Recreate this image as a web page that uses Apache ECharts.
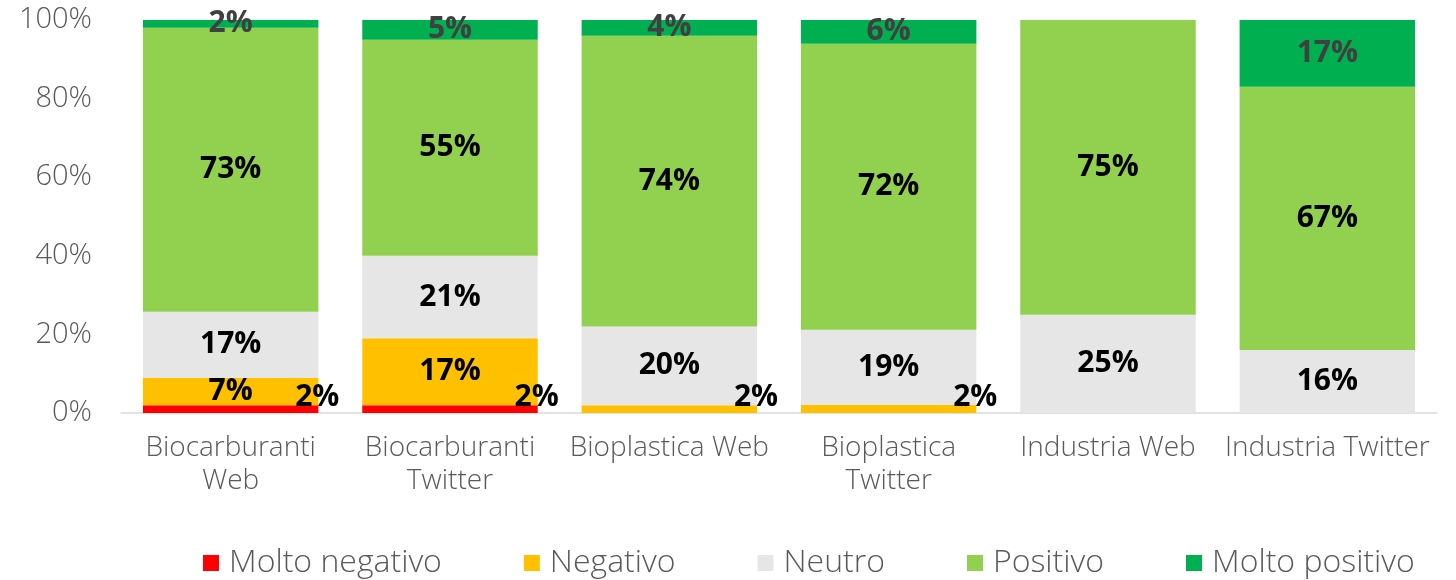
<!DOCTYPE html>
<html>
<head>
<meta charset="utf-8">
<script src="https://cdn.jsdelivr.net/npm/echarts@6/dist/echarts.min.js"></script>
<style>
  html, body { margin: 0; padding: 0; background: #fff; }
  #chart { width: 1456px; height: 580px; }
</style>
</head>
<body>
<div id="chart"></div>
<script>
// dati (percentuali come etichette)
const categories = ["Biocarburanti\nWeb", "Biocarburanti\nTwitter", "Bioplastica Web", "Bioplastica\nTwitter", "Industria Web", "Industria Twitter"];
const seriesNames = ["Molto negativo", "Negativo", "Neutro", "Positivo", "Molto positivo"];
const moltoNegativo = [2, 2, 0, 0, 0, 0];
const negativo = [7, 17, 2, 2, 0, 0];
const neutro = [17, 21, 20, 19, 25, 16];
const positivo = [73, 55, 74, 72, 75, 67];
const moltoPositivo = [2, 5, 4, 6, 0, 17];
const yTicks = [0, 20, 40, 60, 80, 100];

const colors = ["#FF0000", "#FFC000", "#E7E6E6", "#92D050", "#00B050"];
const FONT = "'Open Sans', sans-serif";

const all = [moltoNegativo, negativo, neutro, positivo, moltoPositivo];
// totale per colonna -> barre al 100%
const totals = categories.map((c, i) => all.reduce((s, arr) => s + arr[i], 0));

function buildData(arr, k) {
  return arr.map((v, i) => {
    let item = { value: v / totals[i] * 100, raw: v };
    // etichette piccole spostate a destra della barra (come nell'originale)
    if (k < 2 && v > 0 && v <= 2) {
      item.label = { position: "insideRight", offset: [26, -12] };
    }
    return item;
  });
}

const chart = echarts.init(document.getElementById("chart"));
const option = {
  animation: false,
  color: colors,
  grid: {
    left: 121,
    right: 19,
    top: 20,
    bottom: 167,
  },
  legend: {
    top: 547,
    left: 203,
    padding: 0,
    itemWidth: 16,
    itemHeight: 16,
    itemGap: 82,
    icon: "rect",
    textStyle: {
      fontFamily: FONT,
      fontSize: 32,
      fontWeight: 300,
      color: "#595959",
      padding: [0, 0, 0, 5],
    },
    data: seriesNames,
  },
  xAxis: {
    type: "category",
    data: categories,
    axisLine: { lineStyle: { color: "#D9D9D9", width: 1.5 } },
    axisTick: { show: false },
    axisLabel: {
      fontFamily: FONT,
      fontSize: 28,
      fontWeight: 300,
      color: "#595959",
      lineHeight: 33,
      margin: 19,
      interval: 0,
    },
  },
  yAxis: {
    type: "value",
    min: yTicks[0],
    max: yTicks[yTicks.length - 1],
    interval: 20,
    splitLine: { show: false },
    axisLine: { show: false },
    axisTick: { show: false },
    axisLabel: {
      fontFamily: FONT,
      fontSize: 29,
      fontWeight: 300,
      color: "#595959",
      margin: 29,
      formatter: "{value}%",
    },
  },
  series: all.map((arr, k) => ({
    name: seriesNames[k],
    type: "bar",
    stack: "tot",
    barWidth: "80%",
    data: buildData(arr, k),
    label: {
      show: true,
      position: "inside",
      fontFamily: FONT,
      fontSize: 30,
      fontWeight: "bold",
      color: k === 4 ? "#404040" : "#000",
      formatter: (p) => (p.data.raw > 0 ? p.data.raw + "%" : ""),
    },
  })),
};
chart.setOption(option);
</script>
</body>
</html>
